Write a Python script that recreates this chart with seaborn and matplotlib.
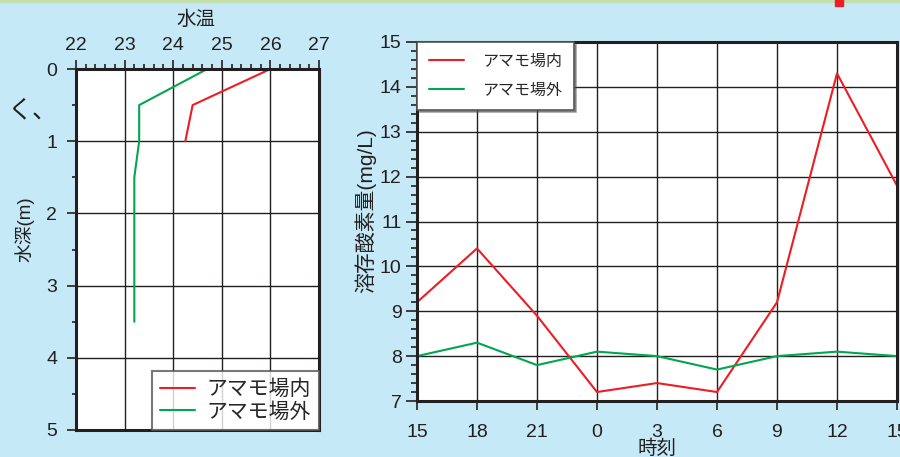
import numpy as np
import pandas as pd
import matplotlib
matplotlib.use("Agg")
import matplotlib.pyplot as plt
from matplotlib.ticker import MultipleLocator
import seaborn as sns

# water temperature profile (left)
depth = [0.0, 0.5, 1.0, 1.5, 3.5]
temp_in = [26.0, 24.4, 24.25]
temp_out = [24.7, 23.3, 23.3, 23.2, 23.2]

# dissolved oxygen over a day (right)
hour_labels = ["15", "18", "21", "0", "3", "6", "9", "12", "15"]
elapsed = [0, 3, 6, 9, 12, 15, 18, 21, 24]
do_in = [9.2, 10.4, 8.9, 7.2, 7.4, 7.2, 9.2, 14.3, 11.8]
do_out = [8.0, 8.3, 7.8, 8.1, 8.0, 7.7, 8.0, 8.1, 8.0]

RED = "#ee1c25"
GREEN = "#00a650"
BG = "#c6e9f8"
INK = "#231f20"

sns.set_style("white")
plt.rcParams['font.family'] = ['Liberation Sans', 'Noto Sans CJK JP', 'DejaVu Sans']

fig = plt.figure(figsize=(9, 4.57), dpi=100, facecolor=BG)

# top strip and small red mark
fig.patches.append(plt.Rectangle((0, 1 - 2/457), 1, 2/457, transform=fig.transFigure,
                                 color="#c3dfae", zorder=0))
fig.patches.append(plt.Rectangle((835/900, 1 - 6/457), 8/900, 6/457, transform=fig.transFigure,
                                 color=RED, zorder=0))

def style_axes(ax):
    ax.set_facecolor("white")
    for s in ax.spines.values():
        s.set_visible(True)
        s.set_linewidth(2.2)
        s.set_color(INK)
    ax.grid(True, which="major", color=INK, lw=1.0)
    ax.set_axisbelow(True)

# ---- left panel
ax1 = fig.add_axes([76/900, 1 - 430/457, 243/900, 361/457])
style_axes(ax1)
df_in = pd.DataFrame({"t": temp_in, "d": depth[:3]})
df_out = pd.DataFrame({"t": temp_out, "d": depth})
sns.lineplot(data=df_in, x="t", y="d", sort=False, estimator=None, color=RED, lw=1.5,
             ax=ax1, label="アマモ場内")
sns.lineplot(data=df_out, x="t", y="d", sort=False, estimator=None, color=GREEN, lw=1.5,
             ax=ax1, label="アマモ場外")
ax1.set_xlim(22, 27)
ax1.set_ylim(5, 0)
ax1.xaxis.tick_top()
ax1.xaxis.set_major_locator(MultipleLocator(1))
ax1.xaxis.set_minor_locator(MultipleLocator(0.2))
ax1.yaxis.set_major_locator(MultipleLocator(1))
ax1.yaxis.set_minor_locator(MultipleLocator(0.5))
ax1.tick_params(which="both", direction="out", color=INK, width=1.2)
ax1.tick_params(axis="x", which="major", length=6.5, top=True, bottom=False, labelsize=14,
                labelcolor=INK, pad=4)
ax1.tick_params(axis="x", which="minor", length=3.5, top=True, bottom=False)
ax1.tick_params(axis="y", which="major", length=6.5, left=True, labelsize=14,
                labelcolor=INK, pad=7)
ax1.tick_params(axis="y", which="minor", length=3.2, left=True)
ax1.set_xlabel("")
ax1.set_ylabel("")
fig.text(196/900, 1 - 20/457, "水温", fontsize=14, color=INK, ha="center", va="center")
fig.text(25/900, 1 - 229/457, "水深(m)", fontsize=13.5, color=INK, ha="center", va="center",
         rotation=90)
leg1 = ax1.legend(loc="lower right", fontsize=15, frameon=True, fancybox=False,
                  borderaxespad=0, handlelength=1.65, handletextpad=0.55, borderpad=0.4,
                  labelspacing=0.15)
leg1.get_frame().set_edgecolor("#555555")
leg1.get_frame().set_linewidth(1.5)

fig.text(0.008, 1 - 110/457, "く、", fontsize=18, color=INK, va="center")

# ---- right panel
ax2 = fig.add_axes([417/900, 1 - 401/457, 480/900, 359/457])
style_axes(ax2)
df_do = pd.DataFrame({"h": elapsed * 2, "v": do_in + do_out,
                      "site": ["アマモ場内"] * len(do_in) + ["アマモ場外"] * len(do_out)})
sns.lineplot(data=df_do, x="h", y="v", hue="site", palette=[RED, GREEN], sort=False,
             estimator=None, lw=1.5, ax=ax2)
ax2.set_xlim(0, 24)
ax2.set_ylim(7, 15)
ax2.set_xticks(elapsed)
ax2.set_xticklabels(hour_labels)
ax2.yaxis.set_major_locator(MultipleLocator(1))
ax2.yaxis.set_minor_locator(MultipleLocator(0.2))
ax2.tick_params(which="both", direction="out", color=INK, width=1.2)
ax2.tick_params(axis="x", which="major", length=6.5, bottom=True, labelsize=14,
                labelcolor=INK, pad=10)
ax2.tick_params(axis="y", which="major", length=8, left=True, labelsize=14,
                labelcolor=INK, pad=3)
ax2.tick_params(axis="y", which="minor", length=4, left=True)
ax2.set_xlabel("")
ax2.set_ylabel("")
fig.text(657/900, 1 - 449/457, "時刻", fontsize=14, color=INK, ha="center", va="center")
fig.text(365/900, 1 - 211/457, "溶存酸素量(mg/L)", fontsize=15, color=INK, ha="center",
         va="center", rotation=90)
leg2 = ax2.legend(loc="upper left", fontsize=11.5, frameon=True, fancybox=False, shadow=True,
                  borderaxespad=0, handlelength=2.2, handletextpad=1.1, borderpad=0.75,
                  labelspacing=0.85, title=None)
leg2.get_frame().set_edgecolor("#555555")
leg2.get_frame().set_linewidth(1.2)

fig.savefig("out.png", dpi=100, facecolor=BG)
